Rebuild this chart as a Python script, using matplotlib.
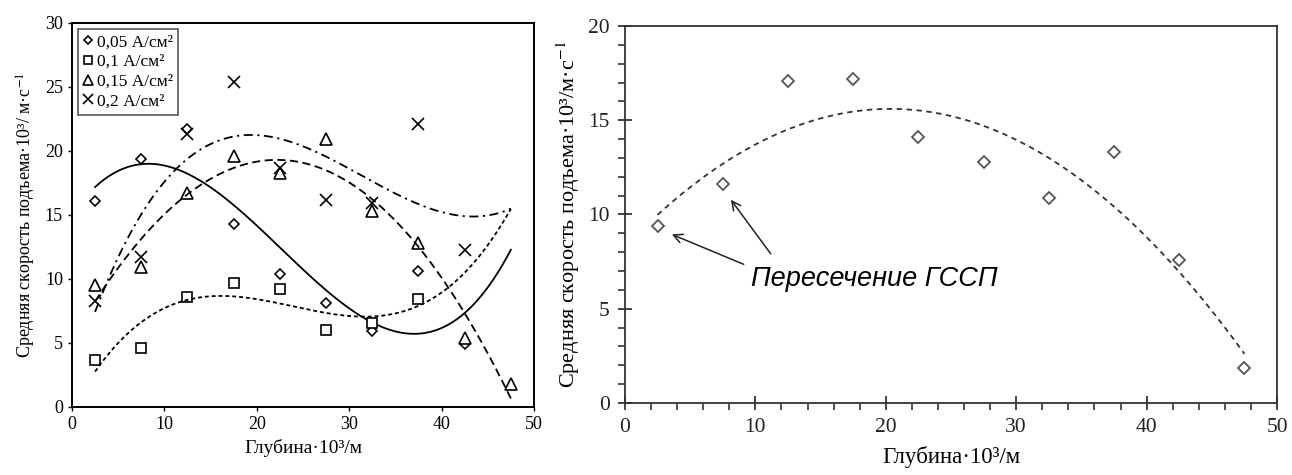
import numpy as np
import matplotlib
matplotlib.use("Agg")
import matplotlib.pyplot as plt
from matplotlib.ticker import MultipleLocator

plt.rcParams['font.family'] = ['Liberation Serif', 'DejaVu Serif']
plt.rcParams['mathtext.fontset'] = 'stix'

# depth bins, 10^3 m
depth = [2.5, 7.5, 12.5, 17.5, 22.5, 27.5, 32.5, 37.5, 42.5, 47.5]

# left panel: mean rise velocity for four current densities
v_005 = [16.1, 19.4, 21.7, 14.3, 10.4, 8.1, 5.9, 10.6, 4.9]
v_01 = [3.7, 4.6, 8.6, 9.7, 9.2, 6.0, 6.6, 8.4]
v_015 = [9.5, 10.9, 16.7, 19.6, 18.3, 20.9, 15.3, 12.8, 5.4, 1.8]
v_02 = [8.3, 11.7, 21.3, 25.4, 18.7, 16.2, 15.9, 22.1, 12.3]

labels = ['0,05 А/см²', '0,1 А/см²', '0,15 А/см²', '0,2 А/см²']

# right panel
v_right = [9.4, 11.6, 17.1, 17.2, 14.1, 12.8, 10.9, 13.3, 7.6, 1.85]

fig = plt.figure(figsize=(12.92, 4.75), dpi=100)
ax1 = fig.add_axes([0.0557, 0.1432, 0.3576, 0.8084])
ax2 = fig.add_axes([0.4837, 0.1516, 0.5047, 0.7937])

xs = np.linspace(2.5, 47.5, 200)

# marker, size, trend line style
series = [
    (v_005, 'D', 5, '-'),
    (v_01, 's', 7, (0, (2.2, 1.6))),
    (v_015, '^', 8, (0, (4.5, 2.5))),
    (v_02, 'x', 9, (0, (5, 2.5, 1.2, 2.5))),
]

handles = []
for (vals, mk, ms, ls), lab in zip(series, labels):
    x = depth[:len(vals)]
    h, = ax1.plot(x, vals, linestyle='none', marker=mk, ms=ms,
                  mfc='white', mec='black', mew=1.2, label=lab)
    handles.append(h)
    # cubic trend line like the spreadsheet one
    coef = np.polyfit(x, vals, 3)
    ax1.plot(xs, np.polyval(coef, xs), color='black', lw=1.3, linestyle=ls)

ax1.set_xlim(0, 50)
ax1.set_ylim(0, 30)
ax1.xaxis.set_major_locator(MultipleLocator(10))
ax1.yaxis.set_major_locator(MultipleLocator(5))
ax1.tick_params(labelsize=13, length=3, width=1)
for s in ax1.spines.values():
    s.set_linewidth(1.4)
ax1.set_xlabel('Глубина·10³/м', fontsize=14, labelpad=4)
ax1.set_ylabel('Средняя скорость подъема·10³/ м·с$^{-1}$', fontsize=13, labelpad=5)
leg = ax1.legend(handles=handles, loc='upper left', fontsize=12.5,
                 handlelength=0.6, handletextpad=0.2, borderpad=0.3,
                 labelspacing=0.2, fancybox=False, framealpha=1,
                 edgecolor='#555555', borderaxespad=0.35, markerscale=0.85)
leg.get_frame().set_linewidth(1.2)

# right panel
ax2.plot(depth, v_right, linestyle='none', marker='D', ms=6,
         mfc='white', mec='#555555', mew=1.3)
coef_r = np.polyfit(depth, v_right, 2)
ax2.plot(xs, np.polyval(coef_r, xs), color='#333333', lw=1.3,
         linestyle=(0, (3, 2.5)))

ax2.set_xlim(0, 50)
ax2.set_ylim(0, 20)
ax2.xaxis.set_major_locator(MultipleLocator(10))
ax2.xaxis.set_minor_locator(MultipleLocator(2))
ax2.yaxis.set_major_locator(MultipleLocator(5))
ax2.yaxis.set_minor_locator(MultipleLocator(1))
ax2.tick_params(which='major', direction='inout', length=10, width=1.2,
                labelsize=15.5, colors='#222222', pad=6)
ax2.tick_params(which='minor', direction='out', length=5, width=1.1,
                colors='#222222')
for s in ax2.spines.values():
    s.set_linewidth(1.3)
    s.set_color('#333333')
ax2.set_xlabel('Глубина·10³/м', fontsize=16.5, labelpad=6)
ax2.set_ylabel('Средняя скорость подъема·10³/м·с$^{-1}$', fontsize=16, labelpad=4)

ax2.text(9.7, 6.6, 'Пересечение ГССП', fontsize=19.5, style='italic',
         family=['Liberation Sans', 'DejaVu Sans'], ha='left', va='center')
arrow = dict(arrowstyle='->', color='#222222', lw=1.1, mutation_scale=16)
ax2.annotate('', xy=(3.4, 9.0), xytext=(9.3, 7.3), arrowprops=arrow)
ax2.annotate('', xy=(8.0, 10.9), xytext=(11.3, 7.8), arrowprops=arrow)

fig.savefig('out.png', dpi=100)
